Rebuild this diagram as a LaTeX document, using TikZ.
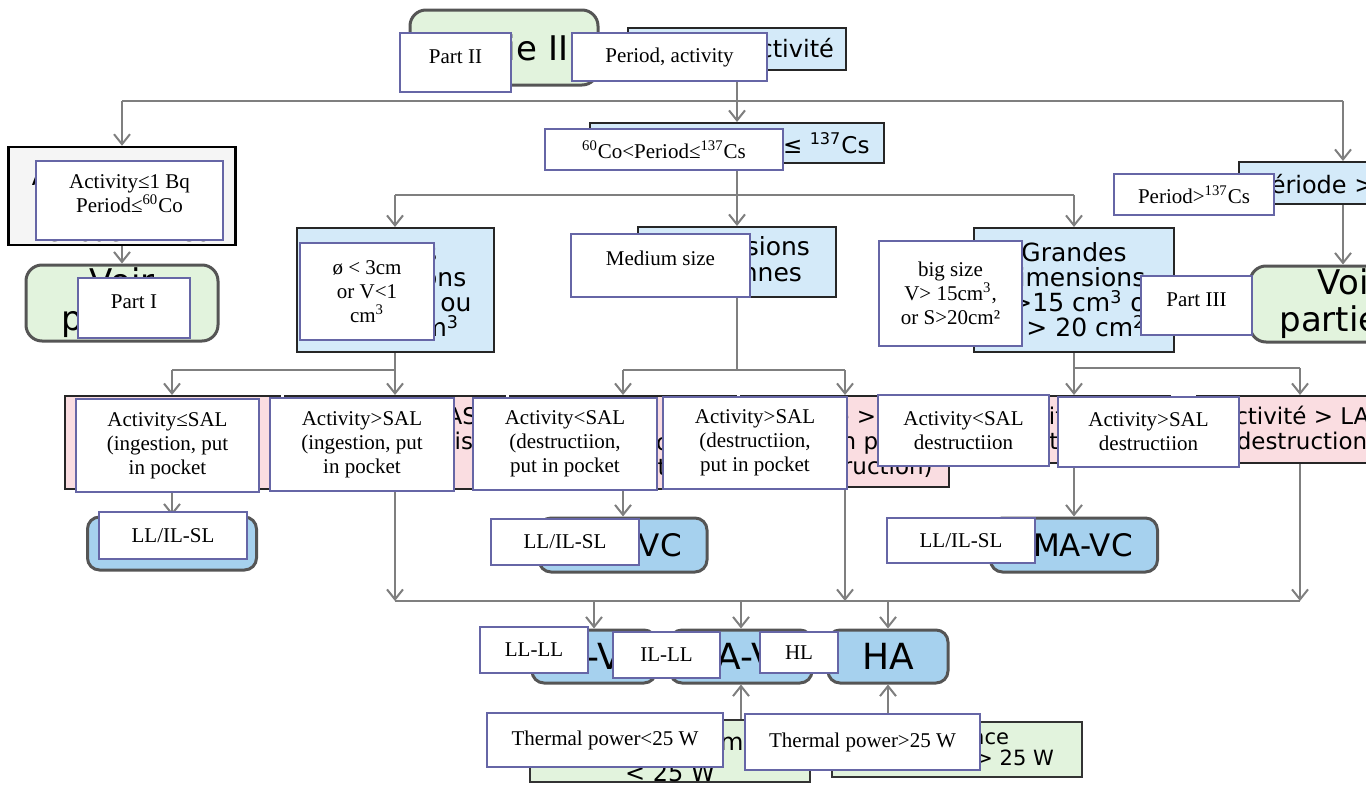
\documentclass[tikz,border=0pt]{standalone}
\usepackage{fontspec}
\setmainfont{Liberation Serif}
\newfontfamily\frfont{DejaVu Sans}
\usetikzlibrary{arrows.meta}

\definecolor{gris}{RGB}{127,127,127}
\definecolor{cadre}{RGB}{102,102,166}
\definecolor{bleu}{RGB}{212,234,249}
\definecolor{bleuf}{RGB}{166,209,238}
\definecolor{vert}{RGB}{226,243,221}
\definecolor{rose}{RGB}{250,221,225}
\definecolor{bord}{RGB}{85,85,85}

\begin{document}
\begin{tikzpicture}[x=0.5pt,y=-0.5pt]
\tikzset{ >={Straight Barb[length=5pt,width=8pt]},
  wh/.style 2 args={minimum width=#1*0.5pt, minimum height=#2*0.5pt},
  bloc/.style={draw=black!85, line width=1pt, fill=bleu, inner sep=0pt, align=center},
  partie/.style={draw=bord, line width=1.5pt, fill=vert, rounded corners=8pt, inner sep=0pt, align=center, font=\frfont\fontsize{17}{18.5}\selectfont},
  seuil/.style={draw=black!85, line width=1pt, fill=rose, inner sep=0pt, align=center, font=\frfont\fontsize{11.5}{12.5}\selectfont},
  dechet/.style={draw=bord, line width=1.5pt, fill=bleuf, rounded corners=6pt, inner sep=0pt, align=center},
  puiss/.style={draw=black!80, line width=1pt, fill=vert, inner sep=0pt, align=center},
  trad/.style={draw=cadre, line width=0.8pt, fill=white, inner sep=0pt, align=center, font=\fontsize{10.5}{12}\selectfont},
  fil/.style={draw=gris, line width=1pt},
}

\useasboundingbox (0,0) rectangle (1366,787);
\clip (0,0) rectangle (1366,787);

%%% Blocs

% Partie II, periode
\node[partie, wh={188}{75}] (partII) at (504,47.5) {Partie II};
\node[bloc, wh={218}{42}, font=\frfont\fontsize{12}{14}\selectfont] (perAct) at (737,49) {Période, activité};
\node[bloc, wh={294}{40}, font=\frfont\fontsize{11.5}{14}\selectfont] (coCs) at (737,143) {\textsuperscript{60}Co < Période ≤ \textsuperscript{137}Cs};

% gauche
\node[draw=black, line width=1.2pt, fill=gray!8, inner sep=0pt, align=center, wh={227}{98}, text height=46pt, font=\frfont\fontsize{12}{14}\selectfont] (lowAct) at (122,196) {Activité ≤ 1 Bq\\[14pt]Période ≤ \textsuperscript{60}Co};
\node[partie, wh={192}{76}] (voirI) at (122,303) {Voir\\partie I};

% droite
\node[bloc, wh={222}{42}, font=\frfont\fontsize{12}{14}\selectfont] (perGt) at (1350,183) {Période > \textsuperscript{137}Cs};
\node[partie, wh={200}{76}] (voirIII) at (1350,304) {Voir\\partie III};

% dimensions
\node[bloc, wh={197}{124}, font=\frfont\fontsize{12.5}{12.5}\selectfont] (petites) at (395,290) {Petites\\dimensions\\ø < 3 cm ou\\V < 1 cm\textsuperscript{3}};
\node[bloc, wh={198}{70}, font=\frfont\fontsize{12.5}{13}\selectfont] (moyennes) at (737,262) {Dimensions\\moyennes};
\node[bloc, wh={200}{124}, font=\frfont\fontsize{12.5}{12.5}\selectfont] (grandes) at (1074,290) {Grandes\\dimensions\\V >15 cm\textsuperscript{3} ou\\S > 20 cm\textsuperscript{2}};

% seuils LAS
\node[seuil, wh={215}{93}] (seuilA) at (172,442.5) {Activité ≤ LAS\\(ingestion,\\mise en poche)};
\node[seuil, wh={220}{93}] (seuilB) at (395,442.5) {Activité > LAS\\(ingestion, mise\\en poche)};
\node[seuil, wh={226}{93}] (seuilC) at (623,442.5) {Activité ≤ LAS\\(mise en poche\\ou destruction)};
\node[seuil, wh={208}{91}] (seuilD) at (845,441.5) {Activité > LAS\\(mise en poche\\ou destruction)};
\node[seuil, wh={192}{67}] (seuilE) at (1074,429.5) {Activité ≤ LAS\\(destruction)};
\node[seuil, wh={210}{67}] (seuilF) at (1302,429.5) {Activité > LAS\\(destruction)};

% FMA-VC
\node[dechet, wh={169}{53}, font=\frfont\fontsize{15.5}{17}\selectfont] (fmaA) at (172,543.5) {FMA-VC};
\node[dechet, wh={168}{54}, font=\frfont\fontsize{15.5}{17}\selectfont] (fmaB) at (623,545) {FMA-VC};
\node[dechet, wh={167}{54}, font=\frfont\fontsize{15.5}{17}\selectfont] (fmaC) at (1074,545) {FMA-VC};

% categories
\node[dechet, wh={124}{53}, font=\frfont\fontsize{18}{20}\selectfont] (favl) at (594,656.5) {FA-VL};
\node[dechet, wh={142}{53}, font=\frfont\fontsize{18}{20}\selectfont] (mavl) at (741,656.5) {MA-VL};
\node[dechet, wh={120}{53}, font=\frfont\fontsize{18}{20}\selectfont] (ha) at (888,656.5) {HA};

% puissance
\node[puiss, wh={280}{58}, text height=30.5pt, font=\frfont\fontsize{12}{15.5}\selectfont] (thLow) at (670,751) {Puissance thermique\\< 25 W};
\node[puiss, wh={250}{55}, font=\frfont\fontsize{10.5}{10.5}\selectfont] (thHigh) at (957,749.5) {Puissance\\thermique > 25 W};

%%% Liens

\draw[fil,->] (perAct) -- (coCs);
\coordinate (hautG) at (122,101);
\coordinate (hautD) at (1343,101);
\draw[fil] (hautG) -- (hautD);
\draw[fil,->] (hautG) -- (lowAct);
\draw[fil,->] (hautD) -- (hautD |- perGt.north);
\draw[fil,->] (lowAct) -- (voirI);
\draw[fil,->] (hautD |- perGt.south) -- (hautD |- voirIII.north);

% dimensions
\coordinate (dimG) at (395,195);
\coordinate (dimD) at (1074,195);
\draw[fil] (coCs) -- (coCs |- dimG);
\draw[fil] (dimG) -- (dimD);
\draw[fil,->] (dimG) -- (petites);
\draw[fil,->] (coCs |- dimG) -- (moyennes);
\draw[fil,->] (dimD) -- (grandes);

% seuils
\coordinate (petG) at (172,370);
\draw[fil] (petites) -- (petites |- petG) -- (petG);
\draw[fil,->] (petG) -- (seuilA);
\draw[fil,->] (petites |- petG) -- (seuilB);
\coordinate (moyG) at (623,370);
\coordinate (moyD) at (845,370);
\draw[fil] (moyennes) -- (moyennes |- moyG);
\draw[fil] (moyG) -- (moyD);
\draw[fil,->] (moyG) -- (seuilC);
\draw[fil,->] (moyD) -- (seuilD);
\coordinate (graD) at (1300,368);
\draw[fil] (grandes) -- (grandes |- graD) -- (graD);
\draw[fil,->] (grandes |- graD) -- (seuilE);
\draw[fil,->] (graD) -- (graD |- seuilF.north);

% vers FMA-VC
\draw[fil,->] (seuilA) -- (fmaA);
\draw[fil,->] (seuilC) -- (fmaB);
\draw[fil,->] (seuilE) -- (fmaC);

% bus du bas
\coordinate (busG) at (395,601);
\coordinate (busD) at (1300,601);
\draw[fil] (busG) -- (busD);
\draw[fil,->] (seuilB) -- (busG);
\draw[fil,->] (seuilD) -- (seuilD |- busG);
\draw[fil,->] (busD |- seuilF.south) -- (busD);
\draw[fil,->] (favl |- busG) -- (favl);
\draw[fil,->] (mavl |- busG) -- (mavl);
\draw[fil,->] (ha |- busG) -- (ha);
\draw[fil,->] (thLow.north -| mavl) -- (mavl);
\draw[fil,->] (thHigh.north -| ha) -- (ha);

%%% Traduction

\node[trad, wh={111}{59}, text depth=5.5pt] (oPartII) at (455.5,62.5) {Part II};
\node[trad, wh={195}{48}] (oPerAct) at (669.5,57) {Period, activity};
\node[trad, wh={238}{41}] (oCoCs) at (664,149.5) {\textsuperscript{60}Co<Period≤\textsuperscript{137}Cs};
\node[trad, wh={187}{79}, text depth=7pt] (oLowAct) at (129.5,200.5) {Activity≤1 Bq\\Period≤\textsuperscript{60}Co};
\node[trad, wh={112}{60}, text depth=6pt] (oPartI) at (134,308) {Part I};
\node[trad, wh={160}{41}] (oPerGt) at (1194,194.5) {Period>\textsuperscript{137}Cs};
\node[trad, wh={111}{59}, text depth=5.5pt] (oPartIII) at (1196.5,305.5) {Part III};
\node[trad, wh={134}{97}] (oSmall) at (367,291.5) {ø < 3cm\\or V<1\\cm\textsuperscript{3}};
\node[trad, wh={179}{63}, text depth=7.5pt] (oMedium) at (660.5,265.5) {Medium size};
\node[trad, wh={143}{105}] (oBig) at (950.5,293.5) {big size\\V> 15cm\textsuperscript{3},\\or S>20cm²};
\node[trad, wh={183}{93}] (oA) at (167.5,445.5) {Activity≤SAL\\(ingestion, put\\in pocket};
\node[trad, wh={184}{93}] (oB) at (362,444.5) {Activity>SAL\\(ingestion, put\\in pocket};
\node[trad, wh={184}{92}] (oC) at (565,444) {Activity<SAL\\(destructiion,\\put in pocket};
\node[trad, wh={184}{92}] (oD) at (755,443) {Activity>SAL\\(destructiion,\\put in pocket};
\node[trad, wh={171}{71}] (oE) at (963.5,430.5) {Activity<SAL\\destructiion};
\node[trad, wh={181}{70}] (oF) at (1148.5,432) {Activity>SAL\\destructiion};
\node[trad, wh={148}{47}] (oLLa) at (173,535.5) {LL/IL-SL};
\node[trad, wh={148}{46}] (oLLb) at (565,542) {LL/IL-SL};
\node[trad, wh={148}{45}] (oLLc) at (961,540.5) {LL/IL-SL};
\node[trad, wh={108}{46}] (oLLLL) at (534,650) {LL-LL};
\node[trad, wh={107}{46}] (oILLL) at (666.5,655) {IL-LL};
\node[trad, wh={78}{41}] (oHL) at (799,652.5) {HL};
\node[trad, wh={236}{54}] (oThLow) at (605,740) {Thermal power<25 W};
\node[trad, wh={235}{56}] (oThHigh) at (862.5,742) {Thermal power>25 W};

\end{tikzpicture}
\end{document}
